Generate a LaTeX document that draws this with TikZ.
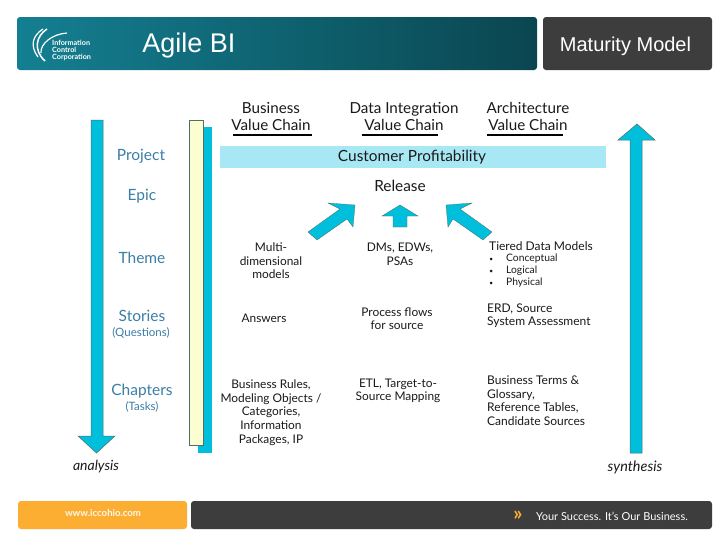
\documentclass[tikz,border=0pt]{standalone}
\usepackage{fontspec}
\setmainfont{Lato}
\newfontfamily\arialfont{Liberation Sans}
\definecolor{cyanbar}{HTML}{00BFDC}
\definecolor{palebar}{HTML}{A8E8F5}
\definecolor{yellowbar}{HTML}{FDFDD2}
\definecolor{edgegrey}{HTML}{4F6E68}
\definecolor{labelblue}{HTML}{3B7EA6}
\definecolor{ink}{HTML}{1A1A1A}
\definecolor{darkbox}{HTML}{3D3D3D}
\definecolor{orangebox}{HTML}{FBAE32}
\definecolor{tealL}{HTML}{147F92}
\definecolor{tealR}{HTML}{0A4650}
\tikzset{
  x=1pt,y=-1pt,
  lane/.style={font=\fontsize{15.5}{16}\selectfont,text=labelblue,inner sep=0pt,anchor=center},
  sublane/.style={font=\fontsize{11.5}{12}\selectfont,text=labelblue,inner sep=0pt,anchor=center},
  chain/.style={font=\fontsize{15.2}{17}\selectfont,text=ink,inner sep=0pt,align=center,anchor=center},
  cell/.style={font=\fontsize{11.9}{13.6}\selectfont,text=ink,inner sep=0pt,align=center,anchor=center},
  lcell/.style={font=\fontsize{12}{13.6}\selectfont,text=ink,inner sep=0pt,align=left,anchor=north west},
  flow/.style={fill=cyanbar,draw=edgegrey,line width=0.5pt},
  rule/.style={line width=1.3pt,draw=black}
}
\begin{document}
\begin{tikzpicture}
\useasboundingbox (0,0) rectangle (728,546);
\fill[white] (0,0) rectangle (728,546);
% header
\shade[left color=tealL,right color=tealR,rounded corners=3pt] (17,17) rectangle (537,70);
\fill[darkbox,rounded corners=3pt] (543,17) rectangle (712,70);
\node[font=\arialfont\fontsize{27}{27}\selectfont,text=white,inner sep=0pt] (title) at (189,46) {Agile BI};
\node[font=\arialfont\fontsize{20}{20}\selectfont,text=white,inner sep=0pt] (maturity) at (625.5,46.5) {Maturity Model};
% logo
\draw[white,line width=1.5pt] (47,29) .. controls (36,36) and (33,50) .. (45,61);
\draw[white,line width=1.2pt] (43,29) .. controls (32,36) and (30,46) .. (38,57);
\draw[white,line width=1.2pt] (67,33) .. controls (52,34) and (40,44) .. (41,53);
\node[font=\bfseries\fontsize{7.2}{6.9}\selectfont,text=white,inner sep=0pt,align=left,anchor=west] (logo) at (52,50.5) {Information\\Control\\Corporation};
% left arrow
\draw[flow] (91,120) -- (103,120) -- (103,436) -- (115,436) -- (96.5,453) -- (78,436) -- (91,436) -- cycle;
% double bar
\fill[cyanbar] (198,127) rectangle (212,453);
\filldraw[fill=yellowbar,draw=edgegrey,line width=0.6pt] (189,120) rectangle (203,445);
% right arrow
\draw[flow] (630,453) -- (630,140) -- (618,140) -- (637,124) -- (655,140) -- (642,140) -- (642,453) -- cycle;
% customer bar
\fill[palebar] (220,146) rectangle (606,168);
\node[font=\fontsize{15.4}{16}\selectfont,text=ink,inner sep=0pt] (profit) at (412,157) {Customer Profitability};
% lane labels
\node[lane] (project) at (141,156) {Project};
\node[lane] (epic) at (142,196) {Epic};
\node[lane] (theme) at (142,258) {Theme};
\node[lane] (stories) at (142,316) {Stories};
\node[sublane] (questions) at (141,333) {(Questions)};
\node[lane] (chapters) at (142,391) {Chapters};
\node[sublane] (tasks) at (142,407) {(Tasks)};
\node[font=\itshape\fontsize{14}{14}\selectfont,text=ink,inner sep=0pt] (analysis) at (96,467) {analysis};
\node[font=\itshape\fontsize{14.4}{14}\selectfont,text=ink,inner sep=0pt] (synthesis) at (635,467) {synthesis};
% value chains
\node[chain] (biz) at (271,116.5) {Business\\Value Chain};
\node[chain] (data) at (404,116.5) {Data Integration\\Value Chain};
\node[chain] (arch) at (528,116.5) {Architecture\\Value Chain};
\draw[rule] (233,135) -- (312,135);
\draw[rule] (362,135) -- (438,135);
\draw[rule] (487,135) -- (563,135);
% release
\node[font=\fontsize{15.4}{16}\selectfont,text=ink,inner sep=0pt] (release) at (400,186) {Release};
\fill[cyanbar,draw=edgegrey,line width=0.3pt] (308,232) -- (340,209) -- (328,203) -- (355,205) -- (353,227) -- (347,219) -- (317,240) -- cycle;
\fill[cyanbar,draw=edgegrey,line width=0.3pt] (393,227) -- (393,216) -- (382,216) -- (400,205) -- (418,216) -- (407,216) -- (407,227) -- cycle;
\fill[cyanbar,draw=edgegrey,line width=0.3pt] (492,232) -- (460,209) -- (472,203) -- (446,205) -- (448,227) -- (453,219) -- (483,240) -- cycle;
% cells
\node[cell] (c11) at (271,261) {Multi-\\dimensional\\models};
\node[cell] (c12) at (400,254) {DMs, EDWs,\\PSAs};
\node[lcell] (c13) at (489,241) {Tiered Data Models};
\node[font=\fontsize{10.3}{12}\selectfont,text=ink,inner sep=0pt,align=left,anchor=north west] (c13b) at (506,254) {Conceptual\\Logical\\Physical};
\foreach \yy [count=\i] in {259,271,283}{
  \fill[ink] (491,\yy) circle (1.5pt);
}
\node[cell] (c21) at (264,318.5) {Answers};
\node[cell] (c22) at (397,318.5) {Process flows\\for source};
\node[lcell] (c23) at (487,303.5) {ERD, Source\\System Assessment};
\node[cell] (c31) at (271,412.5) {Business Rules,\\Modeling Objects /\\Categories,\\Information\\Packages, IP};
\node[cell] (c32) at (398,391) {ETL, Target-to-\\Source Mapping};
\node[lcell] (c33) at (487,375.5) {Business Terms \&\\Glossary,\\Reference Tables,\\Candidate Sources};
% footer
\fill[orangebox,rounded corners=3pt] (18,501) rectangle (187,529);
\fill[darkbox,rounded corners=3pt] (191,501) rectangle (712,529);
\node[font=\bfseries\fontsize{9.6}{10}\selectfont,text=white!90!orangebox,inner sep=0pt] (web) at (103,513) {www.iccohio.com};
\node[font=\fontsize{11}{12}\selectfont,text=white,inner sep=0pt,anchor=east] (slogan) at (688,516) {Your Success. It's Our Business.};
\node[font=\bfseries\fontsize{20}{20}\selectfont,text=orangebox,inner sep=0pt] (chev) at (518,516) {»};
\end{tikzpicture}
\end{document}
